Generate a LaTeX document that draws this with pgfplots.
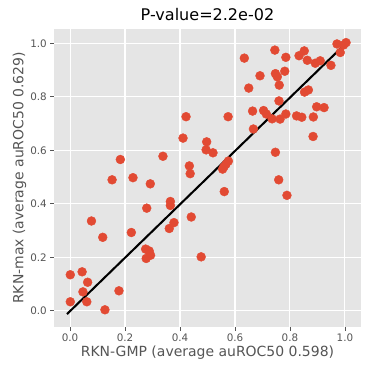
\documentclass[border=0pt]{standalone}
\usepackage{pgfplots}
\usepackage{fontspec}
\setmainfont{DejaVu Sans}
\pgfplotsset{compat=1.18}
\definecolor{ggbg}{HTML}{E5E5E5}
\definecolor{ggred}{HTML}{E24A33}
\definecolor{ggtick}{HTML}{555555}

\pgfplotstableread{
x y
0.422 0.726
0.411 0.646
0.497 0.632
0.495 0.602
0.183 0.566
0.338 0.578
0.434 0.542
0.437 0.513
0.153 0.490
0.229 0.498
0.292 0.475
0.634 0.945
0.745 0.975
0.785 0.948
0.833 0.954
0.852 0.972
0.863 0.937
0.892 0.926
0.910 0.935
0.949 0.918
0.971 0.998
0.983 0.966
0.995 0.994
1.004 1.003
0.691 0.879
0.747 0.887
0.754 0.875
0.781 0.896
0.761 0.844
0.650 0.833
0.853 0.818
0.867 0.826
0.760 0.785
0.664 0.747
0.704 0.749
0.714 0.736
0.735 0.718
0.764 0.717
0.785 0.736
0.824 0.729
0.843 0.724
0.885 0.725
0.897 0.763
0.924 0.760
0.575 0.726
0.667 0.680
0.884 0.652
0.520 0.591
0.747 0.593
0.576 0.560
0.567 0.548
0.560 0.539
0.555 0.530
0.759 0.490
0.365 0.409
0.365 0.394
0.279 0.384
0.441 0.351
0.378 0.330
0.361 0.308
0.078 0.336
0.223 0.293
0.119 0.275
0.275 0.231
0.288 0.224
0.293 0.208
0.277 0.196
0.477 0.202
0.001 0.135
0.044 0.146
0.064 0.107
0.047 0.071
0.001 0.034
0.061 0.034
0.178 0.075
0.127 0.004
0.561 0.446
0.789 0.432
}\scores

\begin{document}
\begin{tikzpicture}
\begin{axis}[
  scale only axis,
  width=296.6pt,
  height=287.9pt,
  xmin=-0.0582, xmax=1.0582,
  ymin=-0.06, ymax=1.054,
  axis background/.style={fill=ggbg},
  axis line style={draw=none},
  grid=major,
  major grid style={white, line width=1pt},
  xtick={0,0.2,0.4,0.6,0.8,1.0},
  ytick={0,0.2,0.4,0.6,0.8,1.0},
  xticklabel style={/pgf/number format/.cd,fixed,fixed zerofill,precision=1},
  yticklabel style={/pgf/number format/.cd,fixed,fixed zerofill,precision=1},
  /pgf/number format/assume math mode=true,
  tick align=outside,
  tickpos=left,
  major tick length=3.5pt,
  tick style={ggtick, line width=0.8pt},
  ticklabel style={font=\fontsize{10}{12}\selectfont, text=ggtick},
  xlabel={RKN-GMP (average auROC50 0.598)},
  ylabel={RKN-max (average auROC50 0.629)},
  label style={font=\fontsize{13.5}{15}\selectfont, text=ggtick},
  xlabel style={yshift=3pt},
  ylabel style={yshift=-3pt},
  title={P-value=2.2e-02},
  title style={font=\fontsize{15.5}{18}\selectfont, text=black, yshift=-2pt},
]
\addplot[only marks, color=ggred, mark=*, mark size=4.3pt, mark options={draw=none, fill=ggred}] table {\scores};
\addplot[black, line width=2pt] coordinates {(-0.011,-0.012) (1.01,1.007)};
\end{axis}
\path ([shift={(-52.2pt,-45.4pt)}]current axis.south west) rectangle ([shift={(12.6pt,28pt)}]current axis.north east);
\end{tikzpicture}
\end{document}
